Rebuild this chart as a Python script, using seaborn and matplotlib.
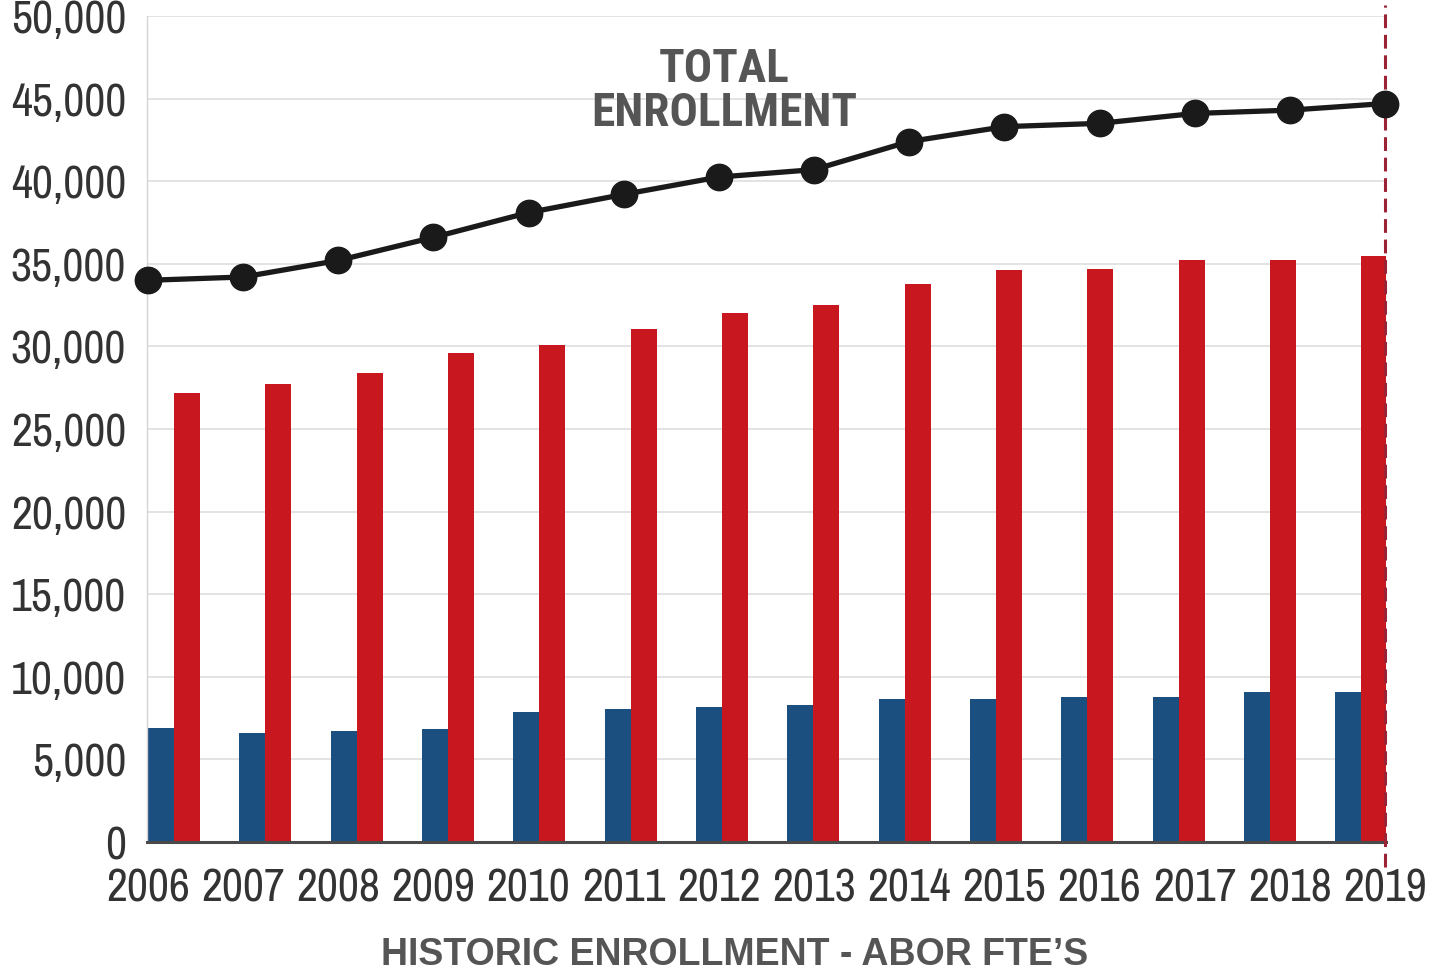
"""Historic enrollment - ABOR FTE's"""
import seaborn as sns
import matplotlib.pyplot as plt
from matplotlib import font_manager as fm
import pandas as pd
import numpy as np

BLUE, RED, BLACK = '#1b4f7f', '#c8171e', '#1a1a1a'
TICK, TITLE, GRID = '#333333', '#555555', '#e0e0e0'
DASH = '#9b2335'

CANDS = ['Arial Narrow', 'Liberation Sans Narrow', 'Archivo Narrow',
         'Roboto Condensed', 'PT Sans Narrow', 'Pragati Narrow',
         'Open Sans Condensed', 'Fira Sans Condensed', 'IBM Plex Sans Condensed',
         'Barlow Semi Condensed', 'Encode Sans Condensed']


def weights(name):
    out = set()
    for f in fm.fontManager.ttflist:
        if f.name == name:
            w = f.weight
            out.add(int(w) if str(w).isdigit() else fm.weight_dict.get(w, 400))
    return out


# narrow face for the tick labels, and one that has a bold cut for the titles
NARROW = next((c for c in CANDS if weights(c)), 'Liberation Sans')
NARROW_BOLD = next((c for c in CANDS if any(w >= 700 for w in weights(c))),
                   'Liberation Sans')

sns.set_theme(style='white', rc={'axes.unicode_minus': False})
plt.rcParams['font.family'] = [NARROW, 'DejaVu Sans']

years = ['2006', '2007', '2008', '2009', '2010', '2011', '2012',
         '2013', '2014', '2015', '2016', '2017', '2018', '2019']
graduate = [6900, 6600, 6700, 6850, 7900, 8050, 8200,
            8300, 8650, 8650, 8800, 8800, 9100, 9100]
undergrad = [27200, 27700, 28400, 29600, 30100, 31050, 32000,
             32500, 33800, 34600, 34700, 35200, 35200, 35500]
total = [34000, 34200, 35200, 36600, 38100, 39200, 40250,
         40700, 42400, 43300, 43500, 44100, 44300, 44700]
yticks = list(range(0, 50001, 5000))

df = pd.DataFrame({
    'Year': years * 2,
    'FTE': graduate + undergrad,
    'Group': ['Graduate'] * len(years) + ['Undergraduate'] * len(years),
})

fig = plt.figure(figsize=(14.35, 9.8), dpi=100, facecolor='white')
ax = fig.add_axes([0.1024, 0.1408, 0.8635, 0.8429])

sns.barplot(data=df, x='Year', y='FTE', hue='Group', palette=[BLUE, RED],
            width=0.57, saturation=1, errorbar=None, legend=False, ax=ax,
            linewidth=0)
ax.set_xlim(-0.296, 13.27)
ax.set_ylim(0, 50000)
ax.set_yticks(yticks)
ax.set_yticklabels([f'{v:,}' for v in yticks])
ax.tick_params(axis='y', length=0, pad=15, labelsize=33, labelcolor=TICK)
ax.set_xticks([])
ax.set_xlabel('')
ax.set_ylabel('')
ax.yaxis.grid(True, color=GRID, lw=1.3)
ax.set_axisbelow(True)
for s in ['top', 'right']:
    ax.spines[s].set_visible(False)
ax.spines['left'].set_color('#d4d4d4')
ax.spines['left'].set_linewidth(1.0)
ax.spines['bottom'].set_color('#4a4a4a')
ax.spines['bottom'].set_linewidth(2.2)

# total line on its own x scale (points sit at the axis edges)
ax2 = ax.twiny()
idx = np.arange(len(years))
sns.lineplot(x=idx, y=total, ax=ax2, color=BLACK, lw=3.8, marker='o',
             markersize=19, markeredgecolor=BLACK, markeredgewidth=1)
for ln in ax2.lines:
    ln.set_clip_on(False)
    ln.set_zorder(5)
ax2.set_xlim(-0.01, 13.01)
ax2.set_ylim(0, 50000)
ax2.set_xticks(idx)
ax2.set_xticklabels(years)
ax2.xaxis.set_ticks_position('bottom')
ax2.xaxis.set_label_position('bottom')
ax2.tick_params(axis='x', length=0, pad=18, labelsize=33, labelcolor=TICK)
for s in ax2.spines.values():
    s.set_visible(False)

ax2.axvline(13, ymin=-0.03, ymax=1.013, color=DASH, lw=2.2,
            dashes=(4.5, 2.2), clip_on=False, zorder=4)

fig.text(0.5045, 0.907, 'TOTAL\nENROLLMENT', ha='center', va='center',
         fontsize=34, fontweight='bold', color=TITLE, linespacing=1.02,
         family=[NARROW_BOLD, 'DejaVu Sans'])
fig.text(0.512, 0.026, 'HISTORIC ENROLLMENT - ABOR FTE\u2019S', ha='center',
         va='center', fontsize=27, fontweight='bold', color=TITLE,
         family=['Liberation Sans', 'DejaVu Sans'])

plt.savefig('out.png', dpi=100, facecolor='white')
